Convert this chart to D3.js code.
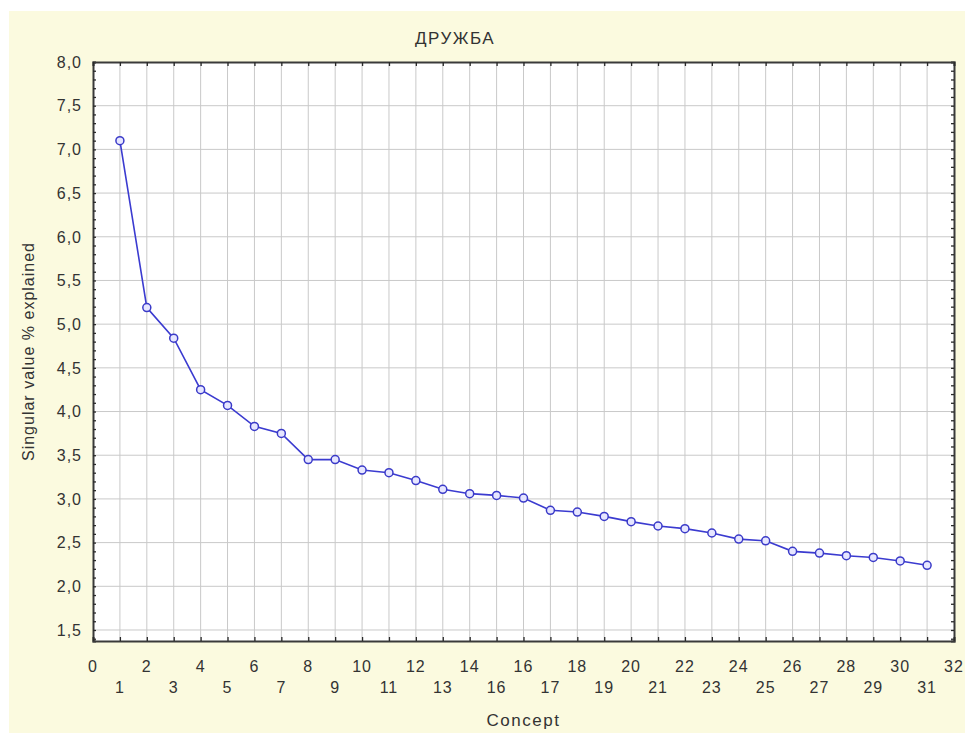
<!DOCTYPE html>
<html><head><meta charset="utf-8">
<script src="https://cdn.jsdelivr.net/npm/d3@7"></script>
<style>
html,body{margin:0;padding:0;background:#ffffff;}
text{font-family:"Liberation Sans",Arial,sans-serif;fill:#333;}
</style></head>
<body>
<svg id="chart" width="965" height="733"></svg>
<script>
const title = "ДРУЖБА";
const xTitle = "Concept";
const yTitle = "Singular value % explained";
const concepts = d3.range(1, 32);
const values = [7.10, 5.19, 4.84, 4.25, 4.07, 3.83, 3.75, 3.45, 3.45, 3.33, 3.30, 3.21, 3.11, 3.06, 3.04, 3.01,
                2.87, 2.85, 2.80, 2.74, 2.69, 2.66, 2.61, 2.54, 2.52, 2.40, 2.38, 2.35, 2.33, 2.29, 2.24];
const xTopTicks = d3.range(0, 33, 2);
const xSecondRowPos = d3.range(1, 32, 2);
const xSecondRowLabels = ["1","3","5","7","9","11","13","16","17","19","21","23","25","27","29","31"];
const yTicks = [1.5, 2.0, 2.5, 3.0, 3.5, 4.0, 4.5, 5.0, 5.5, 6.0, 6.5, 7.0, 7.5, 8.0];
const xDomain = [0, 32];
const yDomain = [1.374, 8.0];

const svg = d3.select("#chart");
const W = 965, H = 733;
const m = {left: 93, right: 965 - 954, top: 62, bottom: 733 - 641};

svg.append("rect").attr("x", 9).attr("y", 11).attr("width", W - 9).attr("height", H - 11)
  .attr("fill", "#fbfadf");

const x = d3.scaleLinear().domain(xDomain).range([m.left, W - m.right]);
const y = d3.scaleLinear().domain(yDomain).range([H - m.bottom, m.top]);

svg.append("rect").attr("x", x(0)).attr("y", y(8)).attr("width", x(32) - x(0)).attr("height", y(yDomain[0]) - y(8))
  .attr("fill", "#ffffff");

// grid
const grid = svg.append("g");
grid.selectAll("line.v").data(d3.range(1, 32)).join("line")
  .attr("x1", d => x(d)).attr("x2", d => x(d)).attr("y1", y(8)).attr("y2", y(yDomain[0]))
  .attr("stroke", "#c9c9c9").attr("stroke-width", 1);
grid.selectAll("line.h").data(yTicks.filter(v => v < 8)).join("line")
  .attr("x1", x(0)).attr("x2", x(32)).attr("y1", d => y(d)).attr("y2", d => y(d))
  .attr("stroke", "#c9c9c9").attr("stroke-width", 1);

// axes (ticks inward)
const minorY = d3.range(14, 81).map(v => v / 10).filter(v => v >= yDomain[0]);
const axL = svg.append("g").attr("transform", `translate(${x(0)},0)`)
  .call(d3.axisRight(y).tickValues(minorY).tickSize(3).tickFormat(""));
const axR = svg.append("g").attr("transform", `translate(${x(32)},0)`)
  .call(d3.axisLeft(y).tickValues(minorY).tickSize(3).tickFormat(""));
const axB = svg.append("g").attr("transform", `translate(0,${y(yDomain[0])})`)
  .call(d3.axisTop(x).tickValues(d3.range(0, 33)).tickSize(4).tickFormat(""));
const axT = svg.append("g").attr("transform", `translate(0,${y(8)})`)
  .call(d3.axisBottom(x).tickValues(d3.range(0, 33)).tickSize(4).tickFormat(""));
[axL, axR, axB, axT].forEach(a => {
  a.select(".domain").attr("stroke", "#3a3a3a").attr("stroke-width", 2);
  a.selectAll(".tick line").attr("stroke", "#2a2a2a").attr("stroke-width", 1.3);
});

// y tick labels
svg.append("g").selectAll("text").data(yTicks).join("text")
  .attr("x", 82).attr("y", d => y(d)).attr("dy", "0.36em").attr("text-anchor", "end")
  .attr("font-size", 16).attr("letter-spacing", 1)
  .text(d => d3.format(".1f")(d).replace(".", ","));

// x tick labels row 1
svg.append("g").selectAll("text").data(xTopTicks).join("text")
  .attr("x", d => x(d)).attr("y", 672).attr("text-anchor", "middle")
  .attr("font-size", 16).attr("letter-spacing", 1)
  .text(d => d);
// row 2
svg.append("g").selectAll("text").data(xSecondRowPos).join("text")
  .attr("x", d => x(d)).attr("y", 693).attr("text-anchor", "middle")
  .attr("font-size", 16).attr("letter-spacing", 1)
  .text((d, i) => xSecondRowLabels[i]);

// titles
svg.append("text").attr("x", 455).attr("y", 44).attr("text-anchor", "middle")
  .attr("font-size", 17).attr("letter-spacing", 1.5).text(title);
svg.append("text").attr("x", x(16)).attr("y", 726).attr("text-anchor", "middle")
  .attr("font-size", 17).attr("letter-spacing", 1.5).text(xTitle);
svg.append("text").attr("transform", `translate(34,${(y(8) + y(yDomain[0])) / 2}) rotate(-90)`)
  .attr("text-anchor", "middle").attr("font-size", 16).attr("letter-spacing", 1)
  .text(yTitle);

// series
const pts = concepts.map((c, i) => ({c, v: values[i]}));
svg.append("path").datum(pts)
  .attr("d", d3.line().x(d => x(d.c)).y(d => y(d.v)))
  .attr("fill", "none").attr("stroke", "#3b3bd0").attr("stroke-width", 1.6);
svg.append("g").selectAll("circle").data(pts).join("circle")
  .attr("cx", d => x(d.c)).attr("cy", d => y(d.v)).attr("r", 4)
  .attr("fill", "#e6e6ff").attr("stroke", "#3a3ac8").attr("stroke-width", 1.5);
</script>
</body></html>
